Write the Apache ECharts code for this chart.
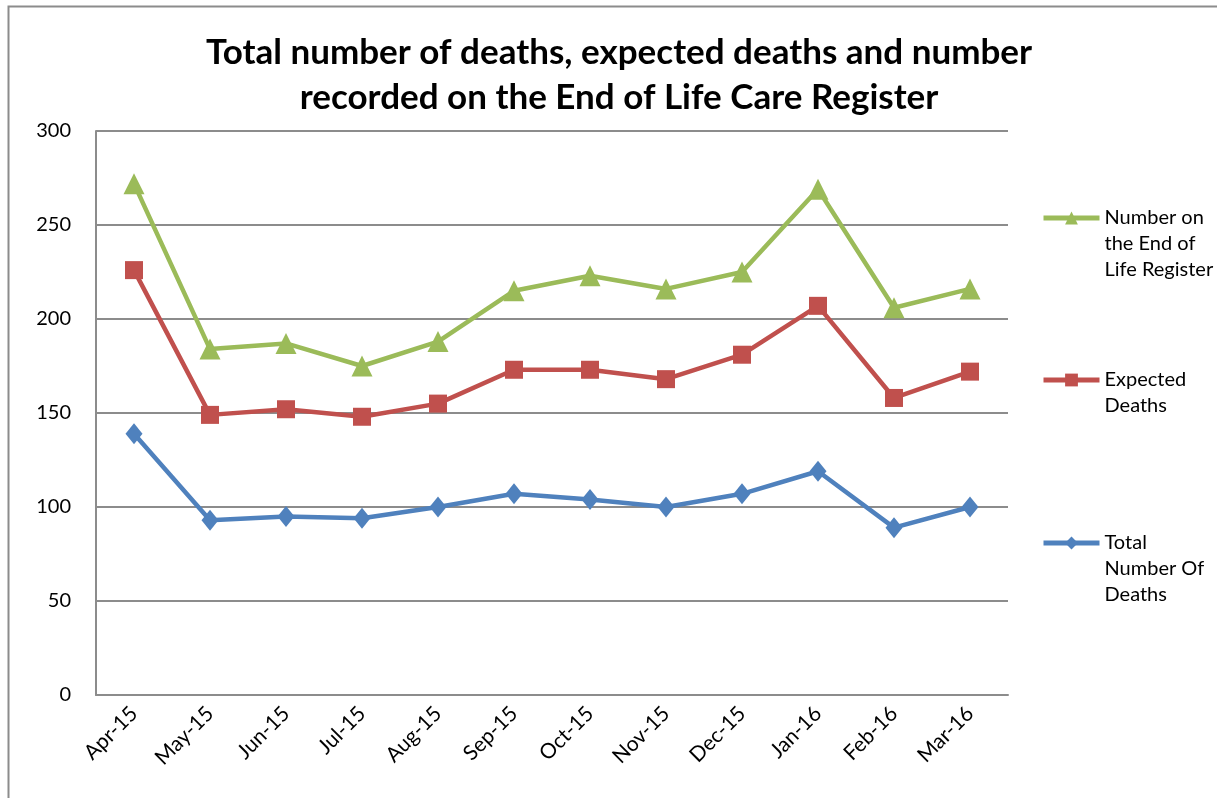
<!DOCTYPE html>
<html>
<head>
<meta charset="utf-8">
<script src="https://cdn.jsdelivr.net/npm/echarts@6/dist/echarts.min.js"></script>
<style>
  html, body { margin: 0; padding: 0; background: #fff; }
  #container { width: 1217px; height: 798px; }
</style>
</head>
<body>
<div id="container"></div>
<script>
// data
var months = ['Apr-15', 'May-15', 'Jun-15', 'Jul-15', 'Aug-15', 'Sep-15',
              'Oct-15', 'Nov-15', 'Dec-15', 'Jan-16', 'Feb-16', 'Mar-16'];
var endOfLife = [272, 184, 187, 175, 188, 215, 223, 216, 225, 269, 206, 216];
var expected = [226, 149, 152, 148, 155, 173, 173, 168, 181, 207, 158, 172];
var totalDeaths = [139, 93, 95, 94, 100, 107, 104, 100, 107, 119, 89, 100];
var yTicks = [0, 50, 100, 150, 200, 250, 300];

var seriesNames = ['Number on\nthe End of\nLife Register', 'Expected\nDeaths', 'Total\nNumber Of\nDeaths'];
var fontName = 'Lato, "Open Sans", sans-serif';

var dom = document.getElementById('container');
var myChart = echarts.init(dom);

// legend text is multi-line; blank lines on top keep the icon on the first line
function legendFor(name, top) {
    var lines = name.split('\n').length;
    var lead = new Array(lines).join('\n');
    return {
        data: [name],
        left: 1036,
        top: top,
        orient: 'vertical',
        itemWidth: 56,
        itemHeight: 16,
        lineStyle: { width: 5 },
        formatter: function (n) { return lead + n; },
        textStyle: {
            fontFamily: fontName,
            fontSize: 20,
            color: '#000',
            lineHeight: 26
        }
    };
}

var option = {
    backgroundColor: '#fff',
    animation: false,
    title: {
        text: 'Total number of deaths, expected deaths and number\nrecorded on the End of Life Care Register',
        left: 614,
        textAlign: 'center',
        top: 25,
        textStyle: {
            fontFamily: fontName,
            fontWeight: 'bold',
            fontSize: 35,
            lineHeight: 45,
            color: '#000'
        }
    },
    graphic: [{
        type: 'rect',
        shape: { x: 8.5, y: 6.5, width: 1300, height: 900 },
        style: { fill: 'none', stroke: '#8c8c8c', lineWidth: 2 },
        silent: true
    }],
    legend: [
        legendFor(seriesNames[0], 148),
        legendFor(seriesNames[1], 336),
        legendFor(seriesNames[2], 473)
    ],
    grid: { left: 96, top: 131, width: 912, height: 564 },
    xAxis: {
        type: 'category',
        data: months,
        boundaryGap: true,
        axisLine: { lineStyle: { color: '#8c8c8c', width: 2 } },
        axisTick: { show: false },
        axisLabel: {
            rotate: 45,
            margin: 15,
            fontFamily: fontName,
            fontSize: 21,
            color: '#000',
            interval: 0
        }
    },
    yAxis: {
        type: 'value',
        min: yTicks[0],
        max: yTicks[yTicks.length - 1],
        interval: 50,
        axisLine: { show: true, lineStyle: { color: '#8c8c8c', width: 2 } },
        axisTick: { show: false },
        splitLine: { lineStyle: { color: '#8c8c8c', width: 2 } },
        axisLabel: {
            margin: 25,
            fontFamily: fontName,
            fontSize: 20,
            color: '#000'
        }
    },
    series: [
        {
            name: seriesNames[0],
            type: 'line',
            data: endOfLife,
            symbol: 'triangle',
            symbolSize: 21,
            color: '#9BBB59',
            lineStyle: { width: 4.5 }
        },
        {
            name: seriesNames[1],
            type: 'line',
            data: expected,
            symbol: 'rect',
            symbolSize: 18,
            color: '#C0504D',
            lineStyle: { width: 4.5 }
        },
        {
            name: seriesNames[2],
            type: 'line',
            data: totalDeaths,
            symbol: 'diamond',
            symbolSize: [17, 21],
            color: '#4F81BD',
            lineStyle: { width: 4.5 }
        }
    ]
};

if (option && typeof option === 'object') {
    myChart.setOption(option, true);
}
</script>
</body>
</html>
